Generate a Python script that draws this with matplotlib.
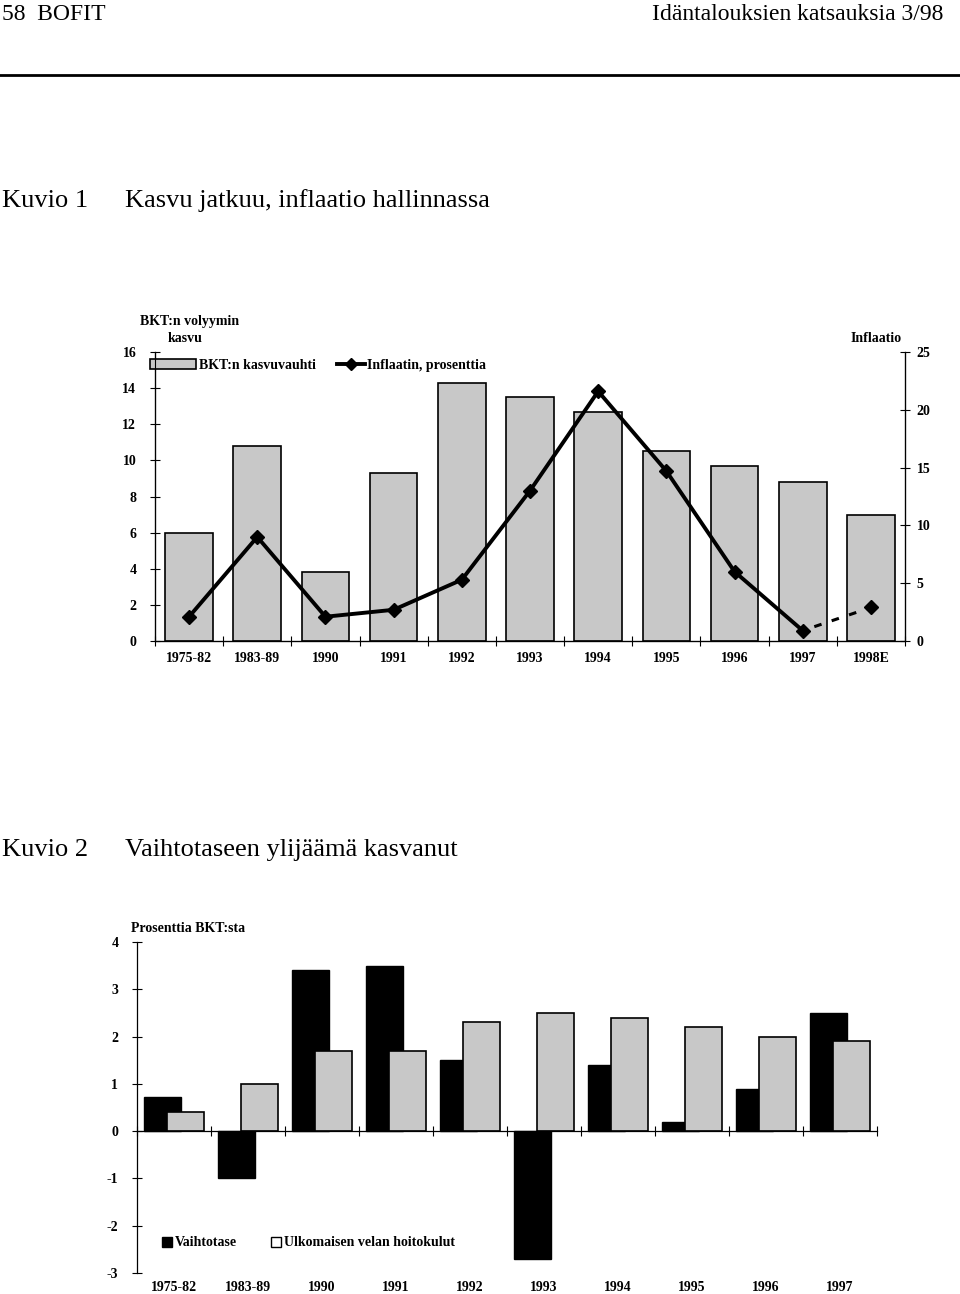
import matplotlib
matplotlib.use("Agg")
import matplotlib.pyplot as plt
import numpy as np
from matplotlib.lines import Line2D
from matplotlib.patches import Patch

plt.rcParams['font.family'] = ['Liberation Serif', 'DejaVu Serif']

# Kuvio 1
years1 = ["1975-82", "1983-89", "1990", "1991", "1992", "1993", "1994",
          "1995", "1996", "1997", "1998E"]
bkt = [6.0, 10.8, 3.8, 9.3, 14.3, 13.5, 12.7, 10.5, 9.7, 8.8, 7.0]
inflaatio = [2.1, 9.0, 2.1, 2.7, 5.3, 13.0, 21.6, 14.7, 6.0, 0.9, 2.9]

# Kuvio 2
years2 = ["1975-82", "1983-89", "1990", "1991", "1992", "1993", "1994",
          "1995", "1996", "1997"]
vaihtotase = [0.72, -1.0, 3.4, 3.5, 1.5, -2.7, 1.4, 0.2, 0.9, 2.5]
hoitokulut = [0.4, 1.0, 1.7, 1.7, 2.3, 2.5, 2.4, 2.2, 2.0, 1.9]

GREY = "#c8c8c8"
W, H = 960, 1294
fig = plt.figure(figsize=(W / 100, H / 100), dpi=100)


def fx(px):
    return px / W


def fy(py):
    return 1 - py / H


# header
fig.text(fx(2), fy(15), "58  BOFIT", fontsize=17, va="center", ha="left")
fig.text(fx(943), fy(15), "Idäntalouksien katsauksia 3/98", fontsize=17,
         va="center", ha="right")
fig.add_artist(Line2D([0, 1], [fy(75), fy(75)], color="black", lw=2))

fig.text(fx(2), fy(201), "Kuvio 1", fontsize=19, va="center")
fig.text(fx(125), fy(201), "Kasvu jatkuu, inflaatio hallinnassa", fontsize=19,
         va="center")
fig.text(fx(2), fy(850), "Kuvio 2", fontsize=19, va="center")
fig.text(fx(125), fy(850), "Vaihtotaseen ylijäämä kasvanut", fontsize=19,
         va="center")

tick_font = dict(fontsize=10, fontweight="bold")
leg_font = dict(size=10, weight="bold")

# ---------- chart 1 ----------
ax1 = fig.add_axes([fx(155), fy(641), fx(905) - fx(155), fy(352) - fy(641)])
x1 = np.arange(len(years1))
ax1.bar(x1, bkt, width=0.7, color=GREY, edgecolor="black", linewidth=1.2)
ax1.set_xlim(-0.5, len(years1) - 0.5)
ax1.set_ylim(0, 16)
ax1.set_yticks(range(0, 17, 2))
ax1.set_yticklabels([str(v) for v in range(0, 17, 2)], **tick_font)
ax1.tick_params(axis="y", direction="inout", length=7, width=0.8, pad=10)
ax1.set_xticks(x1)
ax1.set_xticklabels(years1, **tick_font)
ax1.tick_params(axis="x", which="major", length=0, pad=8)
ax1.set_xticks(np.arange(len(years1) + 1) - 0.5, minor=True)
ax1.tick_params(axis="x", which="minor", direction="inout", length=7, width=0.8)
ax1.spines["top"].set_visible(False)
for s in ["left", "right", "bottom"]:
    ax1.spines[s].set_linewidth(0.9)

ax1r = ax1.twinx()
ax1r.set_ylim(0, 25)
ax1r.set_yticks(range(0, 26, 5))
ax1r.set_yticklabels([str(v) for v in range(0, 26, 5)], **tick_font)
ax1r.tick_params(axis="y", direction="inout", length=7, width=0.8, pad=5)
ax1r.spines["top"].set_visible(False)
ax1r.plot(x1[:-1], inflaatio[:-1], color="black", lw=2.8, marker="D",
          markersize=7)
ax1r.plot(x1[-2:], inflaatio[-2:], color="black", lw=2.2, ls=(2, (2.5, 3.5)),
          marker="D", markersize=7, markevery=[1])

fig.text(fx(140), fy(322), "BKT:n volyymin", fontsize=10, fontweight="bold",
         va="center")
fig.text(fx(168), fy(338), "kasvu", fontsize=10, fontweight="bold",
         va="center")
fig.text(fx(876), fy(339), "Inflaatio", fontsize=10, fontweight="bold",
         va="center", ha="center")

ax1.legend([Patch(facecolor=GREY, edgecolor="black", linewidth=1.2)],
           ["BKT:n kasvuvauhti"], frameon=False, loc="center left",
           bbox_to_anchor=(fx(150), fy(365)),
           bbox_transform=fig.transFigure, prop=leg_font,
           handlelength=3.3, handleheight=0.7, handletextpad=0.2,
           borderpad=0, borderaxespad=0)
ax1r.legend([Line2D([], [], color="black", lw=2.8, marker="D", markersize=6)],
            ["Inflaatin, prosenttia"], frameon=False, loc="center left",
            bbox_to_anchor=(fx(337), fy(365)),
            bbox_transform=fig.transFigure, prop=leg_font,
            handlelength=2.0, handletextpad=0.15, borderpad=0,
            borderaxespad=0)

# ---------- chart 2 ----------
ax2 = fig.add_axes([fx(137), fy(1273), fx(877) - fx(137), fy(942) - fy(1273)])
x2 = np.arange(len(years2))
ax2.bar(x2 - 0.15, vaihtotase, width=0.5, color="black", edgecolor="black")
ax2.bar(x2 + 0.15, hoitokulut, width=0.5, color=GREY, edgecolor="black",
        linewidth=1.2)
ax2.set_xlim(-0.5, len(years2) - 0.5)
ax2.set_ylim(-3, 4)
ax2.set_yticks(range(-3, 5))
ax2.set_yticklabels([str(v) for v in range(-3, 5)], **tick_font)
ax2.tick_params(axis="y", direction="inout", length=7, width=0.8, pad=10)
ax2.spines["top"].set_visible(False)
ax2.spines["right"].set_visible(False)
ax2.spines["bottom"].set_position(("data", 0))
ax2.spines["bottom"].set_linewidth(0.9)
ax2.spines["left"].set_linewidth(0.9)
ax2.set_xticks(np.arange(len(years2) + 1) - 0.5)
ax2.set_xticklabels([])
ax2.tick_params(axis="x", direction="inout", length=7, width=0.8)
for i, lab in enumerate(years2):
    ax2.text(i, -0.045, lab, transform=ax2.get_xaxis_transform(),
             ha="center", va="center", **tick_font)

fig.text(fx(131), fy(928), "Prosenttia BKT:sta", fontsize=10,
         fontweight="bold", va="center")
h2 = [Patch(facecolor="black", edgecolor="black"),
      Patch(facecolor="white", edgecolor="black")]
ax2.legend(h2, ["Vaihtotase", "Ulkomaisen velan hoitokulut"], ncol=2,
           frameon=False, loc="center left",
           bbox_to_anchor=(fx(162), fy(1243)),
           bbox_transform=fig.transFigure, prop=leg_font, columnspacing=2.5,
           handlelength=0.7, handleheight=0.7, handletextpad=0.2,
           borderpad=0, borderaxespad=0)

fig.savefig("out.png", dpi=100)
